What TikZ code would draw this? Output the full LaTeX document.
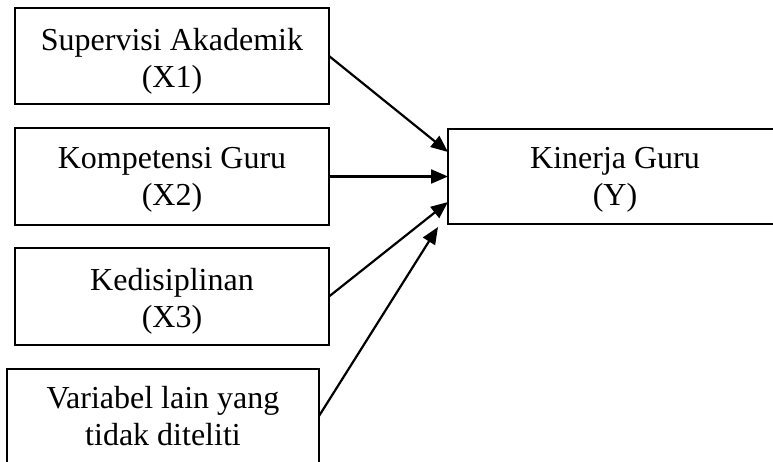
\documentclass[tikz,border=0pt]{standalone}
\usepackage{fontspec}
\setmainfont{Liberation Serif}
\usetikzlibrary{arrows.meta}
\tikzset{
  box/.style={draw, line width=2.2pt, rectangle, inner sep=0pt, outer sep=0pt, minimum width=314pt},
  lbl/.style={anchor=north, inner sep=0pt, align=center, font=\fontsize{32}{37}\selectfont},
  link/.style={line width=2.2pt, -{Triangle[length=17pt,width=14pt]}}
}
\begin{document}
\begin{tikzpicture}[x=1pt,y=-1pt]
\useasboundingbox (0,0) rectangle (773,461);
\clip (0,0) rectangle (773,461);
% boxes
\node[box, minimum height=96pt] (b1) at (172,56) {};
\node[box, minimum height=97pt] (b2) at (172,176.5) {};
\node[box, minimum height=97pt] (b3) at (172,296.5) {};
\node[box, minimum width=312pt, minimum height=120pt] (b4) at (163,429) {};
\node[box, minimum width=335pt, minimum height=95pt] (bY) at (615.5,176.5) {};
% labels
\node[lbl] (l1) at (172,24.1) {\strut Supervisi Akademik\\(X1)};
\node[lbl] (l2) at (172,142.1) {\strut Kompetensi Guru\\(X2)};
\node[lbl] (l3) at (172,264.1) {\strut Kedisiplinan\\(X3)};
\node[lbl] (l4) at (163,382.1) {\strut Variabel lain yang\\tidak diteliti};
\node[lbl] (lY) at (615,142.1) {\strut Kinerja Guru\\(Y)};
% connector ends
\coordinate (t1) at (448,152);
\coordinate (t3) at (448,202);
\coordinate (t4) at (438,227);
\coordinate (s4) at (319,416);
% connectors
\draw[link] (b1.east) -- (t1);
\draw[link] (b2.east) -- (bY.west);
\draw[link] (b3.east) -- (t3);
\draw[link] (s4) -- (t4);
\end{tikzpicture}
\end{document}
